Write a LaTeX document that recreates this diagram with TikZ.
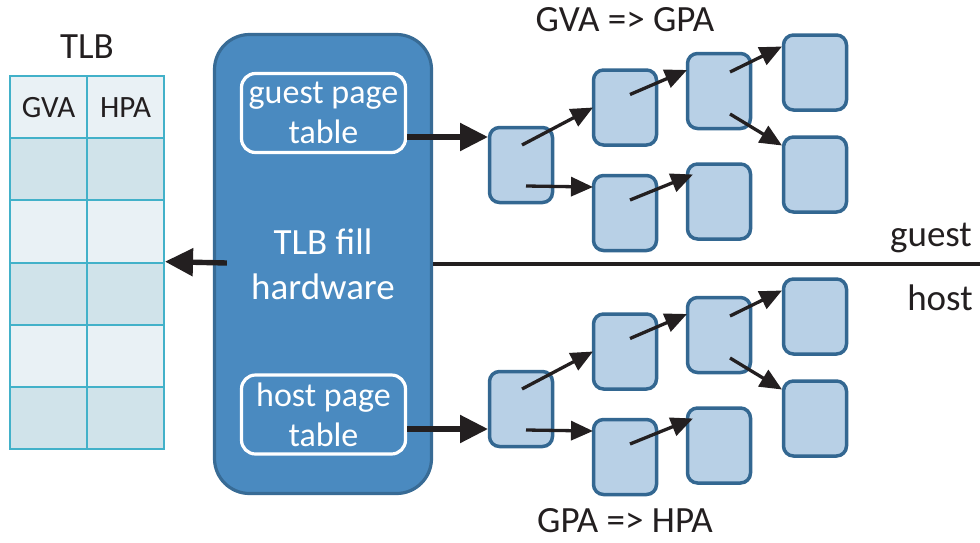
\documentclass[tikz,border=0pt]{standalone}
\usepackage{fontspec}
\setmainfont{Carlito}
\usetikzlibrary{arrows.meta,calc}

\definecolor{hwfill}{HTML}{4A8AC0}
\definecolor{hwedge}{HTML}{386B95}
\definecolor{ptfill}{HTML}{B8D0E6}
\definecolor{ptedge}{HTML}{336791}
\definecolor{tlbedge}{HTML}{42B1C9}
\definecolor{tlblight}{HTML}{E9F1F5}
\definecolor{tlbdark}{HTML}{D0E3EA}
\definecolor{ink}{HTML}{231F20}

\tikzset{
  hwbox/.style={draw=hwedge, fill=hwfill, line width=3.2pt, rounded corners=35pt,
    minimum width=217pt, minimum height=459pt, text=white, align=center, inner sep=0pt,
    font=\fontsize{37}{45}\selectfont},
  walkbox/.style={draw=white, line width=3.2pt, rounded corners=14pt,
    minimum width=164pt, minimum height=79pt, text=white, align=center, inner sep=0pt,
    font=\fontsize{34}{40}\selectfont},
  entry/.style={draw=ptedge, fill=ptfill, line width=3.5pt, rounded corners=10pt,
    minimum width=63pt, minimum height=75pt, inner sep=0pt},
  cell/.style={draw=tlbedge, line width=2pt, minimum width=77pt,
    minimum height=62.2pt, inner sep=0pt, text=ink, font=\fontsize{31}{36}\selectfont},
  caption/.style={text=ink, inner sep=0pt, font=\fontsize{37}{44}\selectfont},
  link/.style={draw=ink, line width=3.3pt, -{Triangle[length=22pt,width=19pt]}},
  feed/.style={draw=ink, line width=5.4pt, -{Triangle[length=28pt,width=27pt]}},
}

\begin{document}
\begin{tikzpicture}[x=1pt,y=-1pt]
\useasboundingbox (0,0) rectangle (980,542);

% TLB table: header row plus five alternating rows
\foreach \r/\shade in {0/tlblight,1/tlbdark,2/tlblight,3/tlbdark,4/tlblight,5/tlbdark}{
  \foreach \c in {1,2}{
    \node[cell, fill=\shade] (cell\r\c) at ({10+77*(\c-0.5)},{76+62.2*(\r+0.5)}) {};
  }
}
\node[caption, font=\fontsize{31}{36}\selectfont] (hgva) at (cell01) {GVA};
\node[caption, font=\fontsize{31}{36}\selectfont] (hhpa) at (cell02) {HPA};
\node[caption] (tlbtitle) at (87,47) {TLB};

% TLB fill hardware with the two page-table walkers
\node[hwbox] (hw) at (323,264) {TLB fill\\hardware};
\node[walkbox] (gpt) at (323.5,113) {guest page\\table};
\node[walkbox] (hpt) at (323.5,414.5) {host page\\table};

% guest / host boundary
\coordinate (rend) at (980,264);
\draw[ink, line width=3.6pt] (hw.east |- rend) -- (rend);
\node[caption] (guestlbl) at (931,238) {guest};
\node[caption] (hostlbl) at (940,298) {host};

% fill into the TLB
\draw[feed] ($(hw.west)+(14,-1)$) -- (cell32.north east);

% radix page-table trees (t = guest, b = host)
\foreach \p/\dy in {t/0, b/244}{
  \node[entry] (\p1) at (521,{165+\dy}) {};
  \node[entry] (\p2) at (625,{107.5+\dy}) {};
  \node[entry] (\p3) at (625,{213+\dy}) {};
  \node[entry] (\p4) at (719,{91+\dy}) {};
  \node[entry] (\p5) at (719,{201.5+\dy}) {};
  \node[entry] (\p6) at (815,{72.5+\dy}) {};
  \node[entry] (\p7) at (815,{174.5+\dy}) {};
  \draw[link] ($(\p1)+(1,-20)$) -- ($(\p2)+(-32,0)$);
  \draw[link] ($(\p1)+(5,21)$) -- ($(\p3)+(-32,-26)$);
  \draw[link] ($(\p2)+(5,-13)$) -- ($(\p4)+(-32,-21)$);
  \draw[link] ($(\p3)+(5,-13)$) -- ($(\p5)+(-26,-27)$);
  \draw[link] ($(\p4)+(11,-19)$) -- ($(\p6)+(-33,-26)$);
  \draw[link] ($(\p4)+(11,23)$) -- ($(\p7)+(-33,-29)$);
}

% walkers feeding the tree roots
\coordinate (groot) at ($(t1)+(-33,-28)$);
\coordinate (hroot) at ($(b1)+(-33,20)$);
\draw[feed] (gpt.east |- groot) -- (groot);
\draw[feed] (hpt.east |- hroot) -- (hroot);

\node[caption] (gvagpa) at (625,20) {GVA => GPA};
\node[caption] (gpahpa) at (625,521) {GPA => HPA};
\end{tikzpicture}
\end{document}
